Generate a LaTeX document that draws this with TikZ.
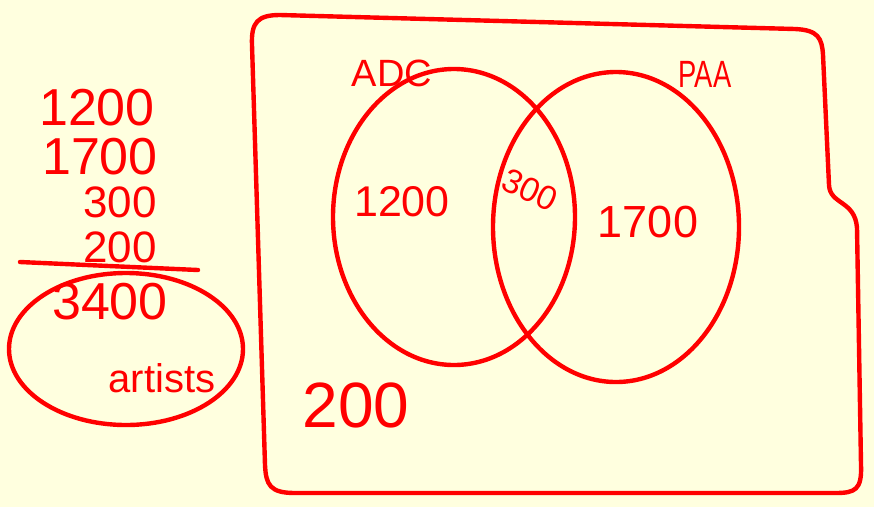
\documentclass[tikz,border=0pt]{standalone}
\usepackage{fontspec}
\setmainfont{Liberation Sans}
\definecolor{bg}{HTML}{FFFFDF}
\definecolor{ink}{HTML}{FF0000}
\begin{document}
\begin{tikzpicture}[x=1pt,y=-1pt,
  stroke/.style={draw=ink,line width=4.4pt,line cap=round,line join=round},
  lbl/.style={text=ink,inner sep=0pt,font=\fontsize{#1}{#1}\selectfont},
  lbl/.default=42]
\fill[bg] (0,0) rectangle (874,507);
\useasboundingbox (0,0) rectangle (874,507);
% frame
\draw[stroke] (280,15) -- (795,29) .. controls (818,30) and (822,38) .. (823,55)
  -- (829,185) .. controls (830,205) and (855,200) .. (857,228)
  -- (861,465) .. controls (862,490) and (855,493) .. (835,493)
  -- (295,493) .. controls (270,493) and (266,485) .. (265,465)
  -- (252,45) .. controls (251,22) and (258,15) .. (280,15) -- cycle;
% venn circles
\draw[stroke] (454,217) ellipse [x radius=121, y radius=148];
\draw[stroke] (616,227) ellipse [x radius=123, y radius=155];
\node[lbl=38] (tadc) at (392,73) {ADC};
\node[lbl=38,xscale=0.72] (tpaa) at (705,74) {PAA};
\node[lbl=43] (n1200) at (402,202) {1200};
\node[lbl=34,rotate=-25] (n300) at (530,190) {300};
\node[lbl=45] (n1700) at (648,222) {1700};
\node[lbl=64] (n200) at (356,405) {200};
% left sum
\node[lbl=52] (s1) at (97,108) {1200};
\node[lbl=52] (s2) at (100,157) {1700};
\node[lbl=44] (s3) at (120,202) {300};
\node[lbl=44] (s4) at (120,247) {200};
\coordinate (la) at (20,262);
\coordinate (lb) at (198,270);
\draw[stroke] (la) -- (lb);
\node[lbl=52] (tot) at (110,302) {3400};
\node[lbl=40] (art) at (162,378) {artists};
\draw[stroke] (126,349) ellipse [x radius=117, y radius=76];
\end{tikzpicture}
\end{document}
